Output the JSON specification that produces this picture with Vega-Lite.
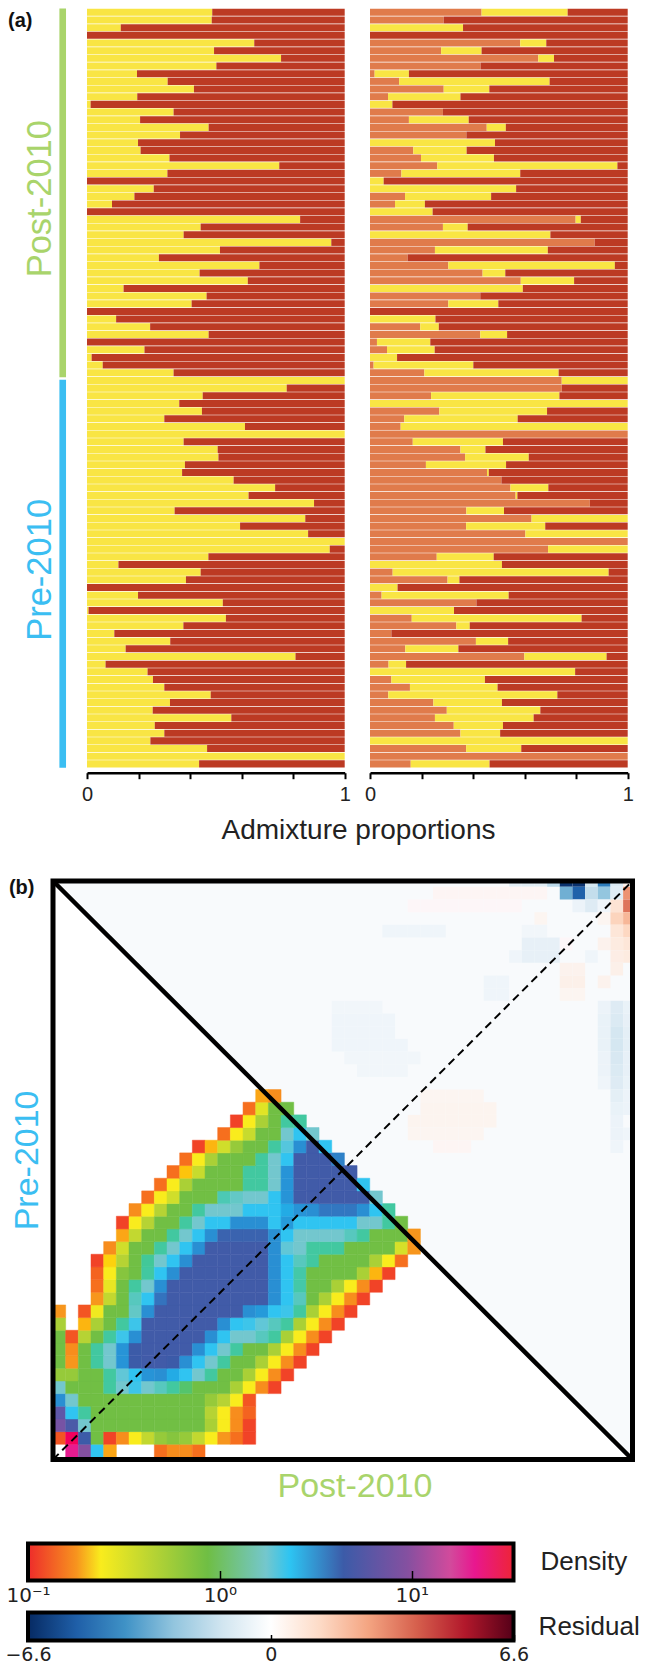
{"$schema":"https://vega.github.io/schema/vega-lite/v6.json","padding":{"left":0,"top":8.5,"right":0,"bottom":0},"spacing":38,"background":"white",
"config":{"view":{"stroke":null},"font":"Liberation Sans","axis":{"grid":false}},
"resolve":{"scale":{"color":"independent"}},
"datasets":{
"left":[{"i":1,"k2":0.486,"k3":0.514},{"i":2,"k2":0.484,"k3":0.516},{"i":3,"k2":0.131,"k3":0.869},{"i":4,"k2":0,"k3":1},{"i":5,"k2":0.649,"k3":0.351},{"i":6,"k2":0.493,"k3":0.507},{"i":7,"k2":0.753,"k3":0.247},{"i":8,"k2":0.502,"k3":0.498},{"i":9,"k2":0.194,"k3":0.806},{"i":10,"k2":0.313,"k3":0.687},{"i":11,"k2":0.415,"k3":0.585},{"i":12,"k2":0.195,"k3":0.805},{"i":13,"k2":0.014,"k3":0.986},{"i":14,"k2":0.336,"k3":0.664},{"i":15,"k2":0.206,"k3":0.794},{"i":16,"k2":0.472,"k3":0.528},{"i":17,"k2":0.361,"k3":0.639},{"i":18,"k2":0.198,"k3":0.802},{"i":19,"k2":0.208,"k3":0.792},{"i":20,"k2":0.32,"k3":0.68},{"i":21,"k2":0.746,"k3":0.254},{"i":22,"k2":0.312,"k3":0.688},{"i":23,"k2":0,"k3":1},{"i":24,"k2":0.259,"k3":0.741},{"i":25,"k2":0.184,"k3":0.816},{"i":26,"k2":0.097,"k3":0.903},{"i":27,"k2":0,"k3":1},{"i":28,"k2":0.827,"k3":0.173},{"i":29,"k2":0.441,"k3":0.559},{"i":30,"k2":0.375,"k3":0.625},{"i":31,"k2":0.948,"k3":0.052},{"i":32,"k2":0.516,"k3":0.484},{"i":33,"k2":0.279,"k3":0.721},{"i":34,"k2":0.669,"k3":0.331},{"i":35,"k2":0.437,"k3":0.563},{"i":36,"k2":0.624,"k3":0.376},{"i":37,"k2":0.142,"k3":0.858},{"i":38,"k2":0.464,"k3":0.536},{"i":39,"k2":0.406,"k3":0.594},{"i":40,"k2":0,"k3":1},{"i":41,"k2":0.113,"k3":0.887},{"i":42,"k2":0.245,"k3":0.755},{"i":43,"k2":0.472,"k3":0.528},{"i":44,"k2":0,"k3":1},{"i":45,"k2":0.223,"k3":0.777},{"i":46,"k2":0.018,"k3":0.982},{"i":47,"k2":0.061,"k3":0.939},{"i":48,"k2":0.336,"k3":0.664},{"i":49,"k2":1,"k3":0},{"i":50,"k2":0.775,"k3":0.225},{"i":51,"k2":0.449,"k3":0.551},{"i":52,"k2":0.358,"k3":0.642},{"i":53,"k2":0.446,"k3":0.554},{"i":54,"k2":0.3,"k3":0.7},{"i":55,"k2":0.613,"k3":0.387},{"i":56,"k2":1,"k3":0},{"i":57,"k2":0.375,"k3":0.625},{"i":58,"k2":0.507,"k3":0.493},{"i":59,"k2":0.51,"k3":0.49},{"i":60,"k2":0.38,"k3":0.62},{"i":61,"k2":0.369,"k3":0.631},{"i":62,"k2":0.569,"k3":0.431},{"i":63,"k2":0.73,"k3":0.27},{"i":64,"k2":0.627,"k3":0.373},{"i":65,"k2":0.881,"k3":0.119},{"i":66,"k2":0.34,"k3":0.66},{"i":67,"k2":0.847,"k3":0.153},{"i":68,"k2":0.594,"k3":0.406},{"i":69,"k2":0.858,"k3":0.142},{"i":70,"k2":1,"k3":0},{"i":71,"k2":0.942,"k3":0.058},{"i":72,"k2":0.471,"k3":0.529},{"i":73,"k2":0.122,"k3":0.878},{"i":74,"k2":0.441,"k3":0.559},{"i":75,"k2":0.384,"k3":0.616},{"i":76,"k2":0,"k3":1},{"i":77,"k2":0.198,"k3":0.802},{"i":78,"k2":0.527,"k3":0.473},{"i":79,"k2":0.006,"k3":0.994},{"i":80,"k2":0.539,"k3":0.461},{"i":81,"k2":0.374,"k3":0.626},{"i":82,"k2":0.106,"k3":0.894},{"i":83,"k2":0.323,"k3":0.677},{"i":84,"k2":0.15,"k3":0.85},{"i":85,"k2":0.809,"k3":0.191},{"i":86,"k2":0.072,"k3":0.928},{"i":87,"k2":0.235,"k3":0.765},{"i":88,"k2":0.256,"k3":0.744},{"i":89,"k2":0.3,"k3":0.7},{"i":90,"k2":0.48,"k3":0.52},{"i":91,"k2":0.322,"k3":0.678},{"i":92,"k2":0.255,"k3":0.745},{"i":93,"k2":0.56,"k3":0.44},{"i":94,"k2":0.263,"k3":0.737},{"i":95,"k2":0.3,"k3":0.7},{"i":96,"k2":0.246,"k3":0.754},{"i":97,"k2":0.466,"k3":0.534},{"i":98,"k2":1,"k3":0},{"i":99,"k2":0.435,"k3":0.565}],
"right":[{"i":1,"k1":0.433,"k2":0.334,"k3":0.233},{"i":2,"k1":0.286,"k2":0,"k3":0.714},{"i":3,"k1":0,"k2":0.361,"k3":0.639},{"i":4,"k1":0,"k2":0,"k3":1},{"i":5,"k1":0.583,"k2":0.101,"k3":0.316},{"i":6,"k1":0.276,"k2":0.157,"k3":0.567},{"i":7,"k1":0.653,"k2":0.061,"k3":0.286},{"i":8,"k1":0.429,"k2":0,"k3":0.571},{"i":9,"k1":0.018,"k2":0.133,"k3":0.849},{"i":10,"k1":0.113,"k2":0.584,"k3":0.303},{"i":11,"k1":0.286,"k2":0.177,"k3":0.537},{"i":12,"k1":0.07,"k2":0.281,"k3":0.649},{"i":13,"k1":0,"k2":0.087,"k3":0.913},{"i":14,"k1":0.283,"k2":0,"k3":0.717},{"i":15,"k1":0.151,"k2":0.232,"k3":0.617},{"i":16,"k1":0.453,"k2":0.074,"k3":0.473},{"i":17,"k1":0.374,"k2":0,"k3":0.626},{"i":18,"k1":0,"k2":0.485,"k3":0.515},{"i":19,"k1":0.168,"k2":0.207,"k3":0.625},{"i":20,"k1":0.198,"k2":0.283,"k3":0.519},{"i":21,"k1":0.261,"k2":0.699,"k3":0.04},{"i":22,"k1":0.122,"k2":0.461,"k3":0.417},{"i":23,"k1":0,"k2":0.053,"k3":0.947},{"i":24,"k1":0,"k2":0.567,"k3":0.433},{"i":25,"k1":0.136,"k2":0.334,"k3":0.53},{"i":26,"k1":0.097,"k2":0.116,"k3":0.787},{"i":27,"k1":0,"k2":0.243,"k3":0.757},{"i":28,"k1":0.798,"k2":0.02,"k3":0.182},{"i":29,"k1":0.283,"k2":0.096,"k3":0.621},{"i":30,"k1":0,"k2":0.7,"k3":0.3},{"i":31,"k1":0.872,"k2":0,"k3":0.128},{"i":32,"k1":0.252,"k2":0.438,"k3":0.31},{"i":33,"k1":0.146,"k2":0,"k3":0.854},{"i":34,"k1":0.304,"k2":0.646,"k3":0.05},{"i":35,"k1":0.437,"k2":0.088,"k3":0.475},{"i":36,"k1":0.585,"k2":0.207,"k3":0.208},{"i":37,"k1":0,"k2":0.593,"k3":0.407},{"i":38,"k1":0.428,"k2":0,"k3":0.572},{"i":39,"k1":0.304,"k2":0.194,"k3":0.502},{"i":40,"k1":0,"k2":0,"k3":1},{"i":41,"k1":0,"k2":0.254,"k3":0.746},{"i":42,"k1":0.195,"k2":0.072,"k3":0.733},{"i":43,"k1":0.428,"k2":0.104,"k3":0.468},{"i":44,"k1":0.027,"k2":0.207,"k3":0.766},{"i":45,"k1":0.066,"k2":0.185,"k3":0.749},{"i":46,"k1":0,"k2":0.105,"k3":0.895},{"i":47,"k1":0.014,"k2":0.387,"k3":0.599},{"i":48,"k1":0.211,"k2":0.521,"k3":0.268},{"i":49,"k1":0.744,"k2":0.256,"k3":0},{"i":50,"k1":0.744,"k2":0,"k3":0.256},{"i":51,"k1":0.237,"k2":0.498,"k3":0.265},{"i":52,"k1":0,"k2":1,"k3":0},{"i":53,"k1":0.269,"k2":0.418,"k3":0.313},{"i":54,"k1":0.133,"k2":0.44,"k3":0.427},{"i":55,"k1":0.119,"k2":0.881,"k3":0},{"i":56,"k1":1,"k2":0,"k3":0},{"i":57,"k1":0.166,"k2":0.35,"k3":0.484},{"i":58,"k1":0.351,"k2":0.097,"k3":0.552},{"i":59,"k1":0.369,"k2":0.247,"k3":0.384},{"i":60,"k1":0.217,"k2":0.311,"k3":0.472},{"i":61,"k1":0.454,"k2":0.007,"k3":0.539},{"i":62,"k1":0.51,"k2":0,"k3":0.49},{"i":63,"k1":0.545,"k2":0.147,"k3":0.308},{"i":64,"k1":0.565,"k2":0.007,"k3":0.428},{"i":65,"k1":0.853,"k2":0,"k3":0.147},{"i":66,"k1":0.374,"k2":0.146,"k3":0.48},{"i":67,"k1":0.627,"k2":0.373,"k3":0},{"i":68,"k1":0.373,"k2":0.307,"k3":0.32},{"i":69,"k1":0.603,"k2":0.397,"k3":0},{"i":70,"k1":1,"k2":0,"k3":0},{"i":71,"k1":0.691,"k2":0.309,"k3":0},{"i":72,"k1":0.259,"k2":0.221,"k3":0.52},{"i":73,"k1":0,"k2":0.512,"k3":0.488},{"i":74,"k1":0.088,"k2":0.838,"k3":0.074},{"i":75,"k1":0.301,"k2":0.046,"k3":0.653},{"i":76,"k1":0,"k2":0.107,"k3":0.893},{"i":77,"k1":0.045,"k2":0.493,"k3":0.462},{"i":78,"k1":0.413,"k2":0,"k3":0.587},{"i":79,"k1":0,"k2":0.326,"k3":0.674},{"i":80,"k1":0.162,"k2":0.659,"k3":0.179},{"i":81,"k1":0.335,"k2":0.052,"k3":0.613},{"i":82,"k1":0.083,"k2":0,"k3":0.917},{"i":83,"k1":0.411,"k2":0.125,"k3":0.464},{"i":84,"k1":0.137,"k2":0.206,"k3":0.657},{"i":85,"k1":0.599,"k2":0.319,"k3":0.082},{"i":86,"k1":0.072,"k2":0.068,"k3":0.86},{"i":87,"k1":0,"k2":0.796,"k3":0.204},{"i":88,"k1":0.083,"k2":0.363,"k3":0.554},{"i":89,"k1":0.155,"k2":0.34,"k3":0.505},{"i":90,"k1":0.071,"k2":0.656,"k3":0.273},{"i":91,"k1":0.246,"k2":0.266,"k3":0.488},{"i":92,"k1":0.298,"k2":0.363,"k3":0.339},{"i":93,"k1":0.252,"k2":0.383,"k3":0.365},{"i":94,"k1":0.325,"k2":0.191,"k3":0.484},{"i":95,"k1":0.351,"k2":0.154,"k3":0.495},{"i":96,"k1":0,"k2":1,"k3":0},{"i":97,"k1":0.373,"k2":0.214,"k3":0.413},{"i":98,"k1":1,"k2":0,"k3":0},{"i":99,"k1":0.158,"k2":0.306,"k3":0.536}],
"groups":[{"group":"Post-2010","first":0,"last":48.1,"mid":24.8},{"group":"Pre-2010","first":48.4,"last":99,"mid":73.2}],
"density":[
{"c":1,"j":0,"d":21},{"c":2,"j":0,"d":9.4},{"c":3,"j":0,"d":2.3},{"c":4,"j":0,"d":0.19},{"c":8,"j":0,"d":0.14},{"c":9,"j":0,"d":0.17},{"c":10,"j":0,"d":0.17},{"c":11,"j":0,"d":0.14},
{"c":0,"j":1,"d":0.12},{"c":1,"j":1,"d":28},{"c":2,"j":1,"d":4.4},{"c":3,"j":1,"d":0.85},{"c":4,"j":1,"d":0.11},{"c":5,"j":1,"d":0.17},{"c":6,"j":1,"d":0.24},{"c":7,"j":1,"d":0.4},{"c":8,"j":1,"d":0.6},{"c":9,"j":1,"d":0.7},{"c":10,"j":1,"d":0.6},{"c":11,"j":1,"d":0.4},{"c":12,"j":1,"d":0.24},{"c":13,"j":1,"d":0.18},{"c":14,"j":1,"d":0.14},{"c":15,"j":1,"d":0.11},
{"c":0,"j":2,"d":8},{"c":1,"j":2,"d":5},{"c":2,"j":2,"d":1.75},{"c":3,"j":2,"d":0.85},{"c":4,"j":2,"d":0.85},{"c":5,"j":2,"d":0.85},{"c":6,"j":2,"d":0.85},{"c":7,"j":2,"d":0.85},{"c":8,"j":2,"d":0.85},{"c":9,"j":2,"d":0.85},{"c":10,"j":2,"d":0.85},{"c":11,"j":2,"d":0.85},{"c":12,"j":2,"d":0.5},{"c":13,"j":2,"d":0.24},{"c":14,"j":2,"d":0.17},{"c":15,"j":2,"d":0.11},
{"c":0,"j":3,"d":6},{"c":1,"j":3,"d":2.3},{"c":2,"j":3,"d":1.25},{"c":3,"j":3,"d":0.85},{"c":4,"j":3,"d":0.85},{"c":5,"j":3,"d":0.85},{"c":6,"j":3,"d":0.85},{"c":7,"j":3,"d":0.85},{"c":8,"j":3,"d":0.85},{"c":9,"j":3,"d":0.85},{"c":10,"j":3,"d":0.85},{"c":11,"j":3,"d":0.85},{"c":12,"j":3,"d":0.45},{"c":13,"j":3,"d":0.24},{"c":14,"j":3,"d":0.17},{"c":15,"j":3,"d":0.13},
{"c":0,"j":4,"d":3.2},{"c":1,"j":4,"d":1.75},{"c":2,"j":4,"d":0.85},{"c":3,"j":4,"d":0.85},{"c":4,"j":4,"d":0.85},{"c":5,"j":4,"d":0.85},{"c":6,"j":4,"d":0.85},{"c":7,"j":4,"d":0.85},{"c":8,"j":4,"d":0.85},{"c":9,"j":4,"d":0.85},{"c":10,"j":4,"d":0.85},{"c":11,"j":4,"d":0.85},{"c":12,"j":4,"d":0.6},{"c":13,"j":4,"d":0.45},{"c":14,"j":4,"d":0.24},{"c":15,"j":4,"d":0.12},
{"c":0,"j":5,"d":1.75},{"c":1,"j":5,"d":0.85},{"c":2,"j":5,"d":0.85},{"c":3,"j":5,"d":0.85},{"c":4,"j":5,"d":1.25},{"c":5,"j":5,"d":1.75},{"c":6,"j":5,"d":2.2},{"c":7,"j":5,"d":1.75},{"c":8,"j":5,"d":1.5},{"c":9,"j":5,"d":1.25},{"c":10,"j":5,"d":1},{"c":11,"j":5,"d":0.85},{"c":12,"j":5,"d":0.85},{"c":13,"j":5,"d":0.85},{"c":14,"j":5,"d":0.5},{"c":15,"j":5,"d":0.24},{"c":16,"j":5,"d":0.17},{"c":17,"j":5,"d":0.11},
{"c":0,"j":6,"d":0.6},{"c":1,"j":6,"d":0.6},{"c":2,"j":6,"d":0.85},{"c":3,"j":6,"d":0.85},{"c":4,"j":6,"d":1.25},{"c":5,"j":6,"d":1.9},{"c":6,"j":6,"d":2.3},{"c":7,"j":6,"d":3.1},{"c":8,"j":6,"d":3.2},{"c":9,"j":6,"d":2.7},{"c":10,"j":6,"d":2.3},{"c":11,"j":6,"d":1.75},{"c":12,"j":6,"d":1.25},{"c":13,"j":6,"d":0.85},{"c":14,"j":6,"d":0.85},{"c":15,"j":6,"d":0.5},{"c":16,"j":6,"d":0.24},{"c":17,"j":6,"d":0.17},{"c":18,"j":6,"d":0.11},
{"c":0,"j":7,"d":0.85},{"c":1,"j":7,"d":0.18},{"c":2,"j":7,"d":0.85},{"c":3,"j":7,"d":1.25},{"c":4,"j":7,"d":1.75},{"c":5,"j":7,"d":3.1},{"c":6,"j":7,"d":4.4},{"c":7,"j":7,"d":4.6},{"c":8,"j":7,"d":4.6},{"c":9,"j":7,"d":4.4},{"c":10,"j":7,"d":3.2},{"c":11,"j":7,"d":2.3},{"c":12,"j":7,"d":1.75},{"c":13,"j":7,"d":1.25},{"c":14,"j":7,"d":0.85},{"c":15,"j":7,"d":0.85},{"c":16,"j":7,"d":0.5},{"c":17,"j":7,"d":0.24},{"c":18,"j":7,"d":0.17},{"c":19,"j":7,"d":0.11},
{"c":0,"j":8,"d":0.85},{"c":1,"j":8,"d":0.17},{"c":2,"j":8,"d":0.85},{"c":3,"j":8,"d":1.25},{"c":4,"j":8,"d":1.75},{"c":5,"j":8,"d":3.1},{"c":6,"j":8,"d":4.4},{"c":7,"j":8,"d":4.6},{"c":8,"j":8,"d":4.6},{"c":9,"j":8,"d":4.6},{"c":10,"j":8,"d":4.6},{"c":11,"j":8,"d":3.2},{"c":12,"j":8,"d":2.3},{"c":13,"j":8,"d":1.75},{"c":14,"j":8,"d":1.25},{"c":15,"j":8,"d":0.85},{"c":16,"j":8,"d":0.85},{"c":17,"j":8,"d":0.5},{"c":18,"j":8,"d":0.24},{"c":19,"j":8,"d":0.17},{"c":20,"j":8,"d":0.11},
{"c":0,"j":9,"d":0.85},{"c":1,"j":9,"d":0.12},{"c":2,"j":9,"d":0.45},{"c":3,"j":9,"d":0.85},{"c":4,"j":9,"d":1.25},{"c":5,"j":9,"d":2.2},{"c":6,"j":9,"d":3.2},{"c":7,"j":9,"d":4.6},{"c":8,"j":9,"d":4.6},{"c":9,"j":9,"d":4.6},{"c":10,"j":9,"d":4.6},{"c":11,"j":9,"d":4.6},{"c":12,"j":9,"d":3.2},{"c":13,"j":9,"d":2.3},{"c":14,"j":9,"d":1.75},{"c":15,"j":9,"d":1.75},{"c":16,"j":9,"d":1.5},{"c":17,"j":9,"d":1.25},{"c":18,"j":9,"d":0.5},{"c":19,"j":9,"d":0.24},{"c":20,"j":9,"d":0.17},{"c":21,"j":9,"d":0.11},
{"c":0,"j":10,"d":0.5},{"c":2,"j":10,"d":0.2},{"c":3,"j":10,"d":0.5},{"c":4,"j":10,"d":0.85},{"c":5,"j":10,"d":1.25},{"c":6,"j":10,"d":2.2},{"c":7,"j":10,"d":4.6},{"c":8,"j":10,"d":4.6},{"c":9,"j":10,"d":4.6},{"c":10,"j":10,"d":4.6},{"c":11,"j":10,"d":4.6},{"c":12,"j":10,"d":4.6},{"c":13,"j":10,"d":3.2},{"c":14,"j":10,"d":2.3},{"c":15,"j":10,"d":2.2},{"c":16,"j":10,"d":1.9},{"c":17,"j":10,"d":1.5},{"c":18,"j":10,"d":1.25},{"c":19,"j":10,"d":0.5},{"c":20,"j":10,"d":0.24},{"c":21,"j":10,"d":0.17},{"c":22,"j":10,"d":0.11},
{"c":0,"j":11,"d":0.18},{"c":2,"j":11,"d":0.12},{"c":3,"j":11,"d":0.26},{"c":4,"j":11,"d":0.85},{"c":5,"j":11,"d":0.85},{"c":6,"j":11,"d":1.6},{"c":7,"j":11,"d":3.2},{"c":8,"j":11,"d":4.6},{"c":9,"j":11,"d":4.6},{"c":10,"j":11,"d":4.6},{"c":11,"j":11,"d":4.6},{"c":12,"j":11,"d":4.6},{"c":13,"j":11,"d":4.6},{"c":14,"j":11,"d":4.6},{"c":15,"j":11,"d":3.2},{"c":16,"j":11,"d":3},{"c":17,"j":11,"d":2.3},{"c":18,"j":11,"d":2.2},{"c":19,"j":11,"d":1.25},{"c":20,"j":11,"d":0.5},{"c":21,"j":11,"d":0.24},{"c":22,"j":11,"d":0.17},{"c":23,"j":11,"d":0.11},
{"c":3,"j":12,"d":0.18},{"c":4,"j":12,"d":0.4},{"c":5,"j":12,"d":0.85},{"c":6,"j":12,"d":1.5},{"c":7,"j":12,"d":2.3},{"c":8,"j":12,"d":3.8},{"c":9,"j":12,"d":4.6},{"c":10,"j":12,"d":4.6},{"c":11,"j":12,"d":4.6},{"c":12,"j":12,"d":4.6},{"c":13,"j":12,"d":4.6},{"c":14,"j":12,"d":4.6},{"c":15,"j":12,"d":4.6},{"c":16,"j":12,"d":4.6},{"c":17,"j":12,"d":3.2},{"c":18,"j":12,"d":2.3},{"c":19,"j":12,"d":1.5},{"c":20,"j":12,"d":0.85},{"c":21,"j":12,"d":0.5},{"c":22,"j":12,"d":0.24},{"c":23,"j":12,"d":0.17},{"c":24,"j":12,"d":0.11},
{"c":3,"j":13,"d":0.14},{"c":4,"j":13,"d":0.28},{"c":5,"j":13,"d":0.85},{"c":6,"j":13,"d":1.25},{"c":7,"j":13,"d":1.75},{"c":8,"j":13,"d":3.2},{"c":9,"j":13,"d":4.6},{"c":10,"j":13,"d":4.6},{"c":11,"j":13,"d":4.6},{"c":12,"j":13,"d":4.6},{"c":13,"j":13,"d":4.6},{"c":14,"j":13,"d":4.6},{"c":15,"j":13,"d":4.6},{"c":16,"j":13,"d":4.6},{"c":17,"j":13,"d":3.2},{"c":18,"j":13,"d":2.3},{"c":19,"j":13,"d":1.3},{"c":20,"j":13,"d":0.85},{"c":21,"j":13,"d":0.85},{"c":22,"j":13,"d":0.5},{"c":23,"j":13,"d":0.24},{"c":24,"j":13,"d":0.17},{"c":25,"j":13,"d":0.11},
{"c":3,"j":14,"d":0.13},{"c":4,"j":14,"d":0.24},{"c":5,"j":14,"d":0.7},{"c":6,"j":14,"d":0.85},{"c":7,"j":14,"d":1.25},{"c":8,"j":14,"d":2.3},{"c":9,"j":14,"d":3.2},{"c":10,"j":14,"d":4.6},{"c":11,"j":14,"d":4.6},{"c":12,"j":14,"d":4.6},{"c":13,"j":14,"d":4.6},{"c":14,"j":14,"d":4.6},{"c":15,"j":14,"d":4.6},{"c":16,"j":14,"d":4.6},{"c":17,"j":14,"d":3.2},{"c":18,"j":14,"d":2.3},{"c":19,"j":14,"d":1.3},{"c":20,"j":14,"d":0.85},{"c":21,"j":14,"d":0.85},{"c":22,"j":14,"d":0.85},{"c":23,"j":14,"d":0.85},{"c":24,"j":14,"d":0.5},{"c":25,"j":14,"d":0.2},{"c":26,"j":14,"d":0.11},
{"c":3,"j":15,"d":0.11},{"c":4,"j":15,"d":0.22},{"c":5,"j":15,"d":0.45},{"c":6,"j":15,"d":0.85},{"c":7,"j":15,"d":1.2},{"c":8,"j":15,"d":1.75},{"c":9,"j":15,"d":2.3},{"c":10,"j":15,"d":3.2},{"c":11,"j":15,"d":4.6},{"c":12,"j":15,"d":4.6},{"c":13,"j":15,"d":4.6},{"c":14,"j":15,"d":4.6},{"c":15,"j":15,"d":4.6},{"c":16,"j":15,"d":4.6},{"c":17,"j":15,"d":3.2},{"c":18,"j":15,"d":2.3},{"c":19,"j":15,"d":1.5},{"c":20,"j":15,"d":1.25},{"c":21,"j":15,"d":0.85},{"c":22,"j":15,"d":0.85},{"c":23,"j":15,"d":0.85},{"c":24,"j":15,"d":0.85},{"c":25,"j":15,"d":0.5},{"c":26,"j":15,"d":0.24},{"c":27,"j":15,"d":0.14},
{"c":4,"j":16,"d":0.17},{"c":5,"j":16,"d":0.35},{"c":6,"j":16,"d":0.85},{"c":7,"j":16,"d":0.85},{"c":8,"j":16,"d":1.25},{"c":9,"j":16,"d":1.75},{"c":10,"j":16,"d":2.3},{"c":11,"j":16,"d":3.2},{"c":12,"j":16,"d":4.6},{"c":13,"j":16,"d":4.6},{"c":14,"j":16,"d":4.6},{"c":15,"j":16,"d":4.6},{"c":16,"j":16,"d":4.6},{"c":17,"j":16,"d":3.2},{"c":18,"j":16,"d":1.9},{"c":19,"j":16,"d":1.75},{"c":20,"j":16,"d":1.25},{"c":21,"j":16,"d":1.25},{"c":22,"j":16,"d":1.25},{"c":23,"j":16,"d":0.85},{"c":24,"j":16,"d":0.85},{"c":25,"j":16,"d":0.85},{"c":26,"j":16,"d":0.85},{"c":27,"j":16,"d":0.33},{"c":28,"j":16,"d":0.18},
{"c":5,"j":17,"d":0.19},{"c":6,"j":17,"d":0.4},{"c":7,"j":17,"d":0.85},{"c":8,"j":17,"d":0.85},{"c":9,"j":17,"d":1.25},{"c":10,"j":17,"d":1.75},{"c":11,"j":17,"d":2.3},{"c":12,"j":17,"d":3.2},{"c":13,"j":17,"d":4.2},{"c":14,"j":17,"d":4.2},{"c":15,"j":17,"d":4.2},{"c":16,"j":17,"d":4.2},{"c":17,"j":17,"d":3.2},{"c":18,"j":17,"d":2.3},{"c":19,"j":17,"d":1.75},{"c":20,"j":17,"d":1.75},{"c":21,"j":17,"d":1.75},{"c":22,"j":17,"d":1.75},{"c":23,"j":17,"d":1.5},{"c":24,"j":17,"d":1.25},{"c":25,"j":17,"d":0.85},{"c":26,"j":17,"d":0.85},{"c":27,"j":17,"d":0.85},{"c":28,"j":17,"d":0.18},
{"c":5,"j":18,"d":0.11},{"c":6,"j":18,"d":0.24},{"c":7,"j":18,"d":0.45},{"c":8,"j":18,"d":0.85},{"c":9,"j":18,"d":0.85},{"c":10,"j":18,"d":1.25},{"c":11,"j":18,"d":1.75},{"c":12,"j":18,"d":2.3},{"c":13,"j":18,"d":2.3},{"c":14,"j":18,"d":3.2},{"c":15,"j":18,"d":3.2},{"c":16,"j":18,"d":3.2},{"c":17,"j":18,"d":2.3},{"c":18,"j":18,"d":3},{"c":19,"j":18,"d":2.3},{"c":20,"j":18,"d":2.3},{"c":21,"j":18,"d":2.3},{"c":22,"j":18,"d":2.3},{"c":23,"j":18,"d":2.3},{"c":24,"j":18,"d":1.75},{"c":25,"j":18,"d":1.75},{"c":26,"j":18,"d":1.25},{"c":27,"j":18,"d":0.85},
{"c":6,"j":19,"d":0.17},{"c":7,"j":19,"d":0.24},{"c":8,"j":19,"d":0.45},{"c":9,"j":19,"d":0.85},{"c":10,"j":19,"d":0.85},{"c":11,"j":19,"d":1.25},{"c":12,"j":19,"d":1.75},{"c":13,"j":19,"d":1.75},{"c":14,"j":19,"d":1.75},{"c":15,"j":19,"d":2.3},{"c":16,"j":19,"d":2.3},{"c":17,"j":19,"d":2.3},{"c":18,"j":19,"d":2.7},{"c":19,"j":19,"d":3.1},{"c":20,"j":19,"d":3.2},{"c":21,"j":19,"d":3.7},{"c":22,"j":19,"d":3.7},{"c":23,"j":19,"d":3.7},{"c":24,"j":19,"d":3.2},{"c":25,"j":19,"d":2.3},{"c":26,"j":19,"d":1.25},
{"c":7,"j":20,"d":0.14},{"c":8,"j":20,"d":0.24},{"c":9,"j":20,"d":0.35},{"c":10,"j":20,"d":0.85},{"c":11,"j":20,"d":0.85},{"c":12,"j":20,"d":0.85},{"c":13,"j":20,"d":1.4},{"c":14,"j":20,"d":1.6},{"c":15,"j":20,"d":1.75},{"c":16,"j":20,"d":1.75},{"c":17,"j":20,"d":2.3},{"c":18,"j":20,"d":3.1},{"c":19,"j":20,"d":4.6},{"c":20,"j":20,"d":4.6},{"c":21,"j":20,"d":4.6},{"c":22,"j":20,"d":4.6},{"c":23,"j":20,"d":4.6},{"c":24,"j":20,"d":4.6},{"c":25,"j":20,"d":1.75},
{"c":8,"j":21,"d":0.14},{"c":9,"j":21,"d":0.24},{"c":10,"j":21,"d":0.5},{"c":11,"j":21,"d":0.85},{"c":12,"j":21,"d":0.85},{"c":13,"j":21,"d":0.85},{"c":14,"j":21,"d":0.85},{"c":15,"j":21,"d":1.25},{"c":16,"j":21,"d":1.25},{"c":17,"j":21,"d":1.75},{"c":18,"j":21,"d":3.1},{"c":19,"j":21,"d":4.6},{"c":20,"j":21,"d":4.6},{"c":21,"j":21,"d":4.6},{"c":22,"j":21,"d":4.6},{"c":23,"j":21,"d":4.6},{"c":24,"j":21,"d":2.3},
{"c":9,"j":22,"d":0.14},{"c":10,"j":22,"d":0.21},{"c":11,"j":22,"d":0.38},{"c":12,"j":22,"d":0.85},{"c":13,"j":22,"d":0.85},{"c":14,"j":22,"d":0.85},{"c":15,"j":22,"d":1.25},{"c":16,"j":22,"d":1.25},{"c":17,"j":22,"d":1.75},{"c":18,"j":22,"d":3.1},{"c":19,"j":22,"d":4.6},{"c":20,"j":22,"d":4.6},{"c":21,"j":22,"d":4.6},{"c":22,"j":22,"d":4.6},{"c":23,"j":22,"d":4.6},
{"c":10,"j":23,"d":0.14},{"c":11,"j":23,"d":0.24},{"c":12,"j":23,"d":0.5},{"c":13,"j":23,"d":0.85},{"c":14,"j":23,"d":0.85},{"c":15,"j":23,"d":0.85},{"c":16,"j":23,"d":1.25},{"c":17,"j":23,"d":1.75},{"c":18,"j":23,"d":2.3},{"c":19,"j":23,"d":4.6},{"c":20,"j":23,"d":4.6},{"c":21,"j":23,"d":4.6},{"c":22,"j":23,"d":3.5},
{"c":11,"j":24,"d":0.11},{"c":12,"j":24,"d":0.2},{"c":13,"j":24,"d":0.35},{"c":14,"j":24,"d":0.6},{"c":15,"j":24,"d":0.85},{"c":16,"j":24,"d":0.85},{"c":17,"j":24,"d":1.25},{"c":18,"j":24,"d":2},{"c":19,"j":24,"d":3.2},{"c":20,"j":24,"d":4.6},{"c":21,"j":24,"d":2.3},
{"c":13,"j":25,"d":0.14},{"c":14,"j":25,"d":0.24},{"c":15,"j":25,"d":0.38},{"c":16,"j":25,"d":0.85},{"c":17,"j":25,"d":0.85},{"c":18,"j":25,"d":1.75},{"c":19,"j":25,"d":2.3},{"c":20,"j":25,"d":1.75},
{"c":14,"j":26,"d":0.11},{"c":15,"j":26,"d":0.24},{"c":16,"j":26,"d":0.5},{"c":17,"j":26,"d":0.85},{"c":18,"j":26,"d":1.25},{"c":19,"j":26,"d":1.25},
{"c":15,"j":27,"d":0.14},{"c":16,"j":27,"d":0.3},{"c":17,"j":27,"d":0.85},{"c":18,"j":27,"d":0.85},
{"c":16,"j":28,"d":0.19},{"c":17,"j":28,"d":0.17}],
"residual":[
{"c":36,"j":45,"r":-0.7},{"c":37,"j":45,"r":-0.8},{"c":38,"j":45,"r":-0.8},{"c":39,"j":45,"r":-1.8},{"c":40,"j":45,"r":-6.4},{"c":41,"j":45,"r":-6.4},{"c":42,"j":45,"r":-1.2},{"c":43,"j":45,"r":-4.5},{"c":44,"j":45,"r":-1},{"c":45,"j":45,"r":0.5},
{"c":30,"j":44,"r":0.25},{"c":31,"j":44,"r":0.25},{"c":32,"j":44,"r":0.25},{"c":33,"j":44,"r":0.25},{"c":34,"j":44,"r":0.25},{"c":35,"j":44,"r":0.25},{"c":36,"j":44,"r":0.25},{"c":37,"j":44,"r":0.25},{"c":38,"j":44,"r":0.25},{"c":40,"j":44,"r":-3.2},{"c":41,"j":44,"r":-5.2},{"c":42,"j":44,"r":-1.6},{"c":43,"j":44,"r":-2.6},{"c":44,"j":44,"r":-0.8},{"c":45,"j":44,"r":3},
{"c":28,"j":43,"r":0.2},{"c":29,"j":43,"r":0.2},{"c":30,"j":43,"r":0.2},{"c":31,"j":43,"r":0.2},{"c":32,"j":43,"r":0.2},{"c":33,"j":43,"r":0.2},{"c":34,"j":43,"r":0.2},{"c":35,"j":43,"r":0.2},{"c":36,"j":43,"r":0.2},{"c":41,"j":43,"r":-0.4},{"c":42,"j":43,"r":-0.9},{"c":43,"j":43,"r":-0.3},{"c":44,"j":43,"r":1},{"c":45,"j":43,"r":3.6},
{"c":38,"j":42,"r":0.3},{"c":43,"j":42,"r":0.3},{"c":44,"j":42,"r":1.5},{"c":45,"j":42,"r":2.2},
{"c":26,"j":41,"r":-0.3},{"c":27,"j":41,"r":-0.3},{"c":28,"j":41,"r":-0.3},{"c":29,"j":41,"r":-0.3},{"c":30,"j":41,"r":-0.3},{"c":37,"j":41,"r":-0.25},{"c":38,"j":41,"r":-0.25},{"c":44,"j":41,"r":0.9},{"c":45,"j":41,"r":1.4},
{"c":37,"j":40,"r":-0.6},{"c":38,"j":40,"r":-0.6},{"c":39,"j":40,"r":-0.6},{"c":40,"j":40,"r":0.2},{"c":43,"j":40,"r":0.4},{"c":44,"j":40,"r":0.7},{"c":45,"j":40,"r":0.9},
{"c":36,"j":39,"r":-0.3},{"c":37,"j":39,"r":-0.6},{"c":38,"j":39,"r":-0.6},{"c":39,"j":39,"r":-0.6},{"c":42,"j":39,"r":-0.3},{"c":44,"j":39,"r":0.6},{"c":45,"j":39,"r":0.7},
{"c":40,"j":38,"r":0.4},{"c":41,"j":38,"r":0.4},{"c":44,"j":38,"r":0.5},
{"c":34,"j":37,"r":-0.3},{"c":35,"j":37,"r":-0.3},{"c":40,"j":37,"r":0.5},{"c":41,"j":37,"r":0.5},{"c":43,"j":37,"r":0.4},
{"c":34,"j":36,"r":-0.3},{"c":35,"j":36,"r":-0.3},{"c":40,"j":36,"r":0.3},{"c":41,"j":36,"r":0.3},
{"c":22,"j":35,"r":-0.25},{"c":23,"j":35,"r":-0.25},{"c":24,"j":35,"r":-0.25},{"c":25,"j":35,"r":-0.25},{"c":43,"j":35,"r":-0.4},{"c":44,"j":35,"r":-0.9},{"c":45,"j":35,"r":-0.5},
{"c":22,"j":34,"r":-0.3},{"c":23,"j":34,"r":-0.3},{"c":24,"j":34,"r":-0.3},{"c":25,"j":34,"r":-0.3},{"c":26,"j":34,"r":-0.3},{"c":43,"j":34,"r":-0.5},{"c":44,"j":34,"r":-1},{"c":45,"j":34,"r":-0.6},
{"c":22,"j":33,"r":-0.3},{"c":23,"j":33,"r":-0.3},{"c":24,"j":33,"r":-0.3},{"c":25,"j":33,"r":-0.3},{"c":26,"j":33,"r":-0.3},{"c":43,"j":33,"r":-0.5},{"c":44,"j":33,"r":-1.2},{"c":45,"j":33,"r":-0.7},
{"c":22,"j":32,"r":-0.3},{"c":23,"j":32,"r":-0.3},{"c":24,"j":32,"r":-0.3},{"c":25,"j":32,"r":-0.3},{"c":26,"j":32,"r":-0.3},{"c":27,"j":32,"r":-0.3},{"c":43,"j":32,"r":-0.5},{"c":44,"j":32,"r":-1.2},{"c":45,"j":32,"r":-0.7},
{"c":23,"j":31,"r":-0.25},{"c":24,"j":31,"r":-0.25},{"c":25,"j":31,"r":-0.25},{"c":26,"j":31,"r":-0.25},{"c":27,"j":31,"r":-0.25},{"c":28,"j":31,"r":-0.25},{"c":43,"j":31,"r":-0.4},{"c":44,"j":31,"r":-1.1},{"c":45,"j":31,"r":-0.6},
{"c":24,"j":30,"r":-0.25},{"c":25,"j":30,"r":-0.25},{"c":26,"j":30,"r":-0.25},{"c":27,"j":30,"r":-0.25},{"c":43,"j":30,"r":-0.4},{"c":44,"j":30,"r":-1},{"c":45,"j":30,"r":-0.6},
{"c":43,"j":29,"r":-0.3},{"c":44,"j":29,"r":-0.9},{"c":45,"j":29,"r":-0.5},
{"c":29,"j":28,"r":0.3},{"c":30,"j":28,"r":0.3},{"c":31,"j":28,"r":0.3},{"c":32,"j":28,"r":0.3},{"c":33,"j":28,"r":0.3},{"c":44,"j":28,"r":-0.7},{"c":45,"j":28,"r":-0.4},
{"c":29,"j":27,"r":0.35},{"c":30,"j":27,"r":0.35},{"c":31,"j":27,"r":0.35},{"c":32,"j":27,"r":0.35},{"c":33,"j":27,"r":0.35},{"c":34,"j":27,"r":0.35},{"c":44,"j":27,"r":-0.5},{"c":45,"j":27,"r":-0.4},
{"c":28,"j":26,"r":0.35},{"c":29,"j":26,"r":0.35},{"c":30,"j":26,"r":0.35},{"c":31,"j":26,"r":0.35},{"c":32,"j":26,"r":0.35},{"c":33,"j":26,"r":0.35},{"c":34,"j":26,"r":0.35},{"c":44,"j":26,"r":-0.4},
{"c":28,"j":25,"r":0.3},{"c":29,"j":25,"r":0.3},{"c":30,"j":25,"r":0.3},{"c":31,"j":25,"r":0.3},{"c":32,"j":25,"r":0.3},{"c":33,"j":25,"r":0.3},{"c":44,"j":25,"r":-0.4},{"c":45,"j":25,"r":-0.3},
{"c":30,"j":24,"r":0.25},{"c":31,"j":24,"r":0.25},{"c":32,"j":24,"r":0.25},{"c":44,"j":24,"r":-0.3}]
},
"vconcat":[
{"spacing":31.5,"resolve":{"scale":{"color":"independent"}},"vconcat":[
 {"bounds":"flush","spacing":25,"resolve":{"scale":{"color":"independent"}},"hconcat":[
   {"width":62,"height":759.2,"view":{"fill":"white"},"layer":[
    {"data":{"name":"groups"},"mark":{"type":"rect"},"encoding":{"x":{"datum":0.958,"type":"quantitative","scale":{"domain":[0,1]},"axis":null},"x2":{"datum":1.065},"y":{"field":"first","type":"quantitative","scale":{"domain":[0,99],"reverse":true},"axis":null},"y2":{"field":"last"},"color":{"field":"group","type":"nominal","scale":{"domain":["Post-2010","Pre-2010"],"range":["#A9D46B","#3BBEF2"]},"legend":null}}},
    {"data":{"name":"groups"},"mark":{"type":"text","angle":270,"fontSize":34.5,"align":"center","baseline":"alphabetic"},"encoding":{"x":{"datum":0.818,"type":"quantitative","scale":{"domain":[0,1]},"axis":null},"y":{"field":"mid","type":"quantitative","scale":{"domain":[0,99],"reverse":true},"axis":null},"text":{"field":"group"},"color":{"field":"group","type":"nominal","scale":{"domain":["Post-2010","Pre-2010"],"range":["#A9D46B","#3BBEF2"]},"legend":null}}},
    {"data":{"values":[{"panel":"(a)"}]},"mark":{"type":"text","fontSize":20,"fontWeight":"bold","align":"left","baseline":"alphabetic","color":"#111111"},"encoding":{"x":{"datum":0.129,"type":"quantitative","scale":{"domain":[0,1]},"axis":null},"y":{"datum":2.4,"type":"quantitative","scale":{"domain":[0,99],"reverse":true},"axis":null},"text":{"field":"panel"}}}
   ]},
   {"width":257.7,"height":759.2,"data":{"name":"left"},"transform":[{"fold":["k2","k3"]}],"mark":{"type":"bar"},"encoding":{
    "y":{"field":"i","type":"ordinal","axis":null,"scale":{"paddingInner":0.08,"paddingOuter":0.04}},
    "x":{"field":"value","type":"quantitative","stack":"zero","scale":{"domain":[0,1]},"axis":{"title":"Admixture proportions","titleFontSize":28,"titleFontWeight":"normal","titleColor":"#222222","titleX":271,"titleY":58,"titleBaseline":"middle","titleAnchor":"middle","values":[0,0.2,0.4,0.6,0.8,1],"labelExpr":"datum.value==0||datum.value==1?datum.value:''","labelFontSize":20,"labelColor":"#222222","labelFlush":false,"labelOverlap":false,"labelBound":false,"labelPadding":6,"tickSize":6,"tickWidth":2,"tickColor":"black","domainWidth":2.5,"domainColor":"black","offset":5}},
    "order":{"field":"key","sort":"ascending"},
    "color":{"field":"key","type":"nominal","scale":{"domain":["k1","k2","k3"],"range":["#E07B4B","#F9E544","#BC3A23"]},"legend":null}}},
  {"width":257.7,"height":759.2,"data":{"name":"right"},"transform":[{"fold":["k1","k2","k3"]}],"mark":{"type":"bar"},"encoding":{
    "y":{"field":"i","type":"ordinal","axis":null,"scale":{"paddingInner":0.08,"paddingOuter":0.04}},
    "x":{"field":"value","type":"quantitative","stack":"zero","scale":{"domain":[0,1]},"axis":{"title":null,"values":[0,0.2,0.4,0.6,0.8,1],"labelExpr":"datum.value==0||datum.value==1?datum.value:''","labelFontSize":20,"labelColor":"#222222","labelFlush":false,"labelOverlap":false,"labelBound":false,"labelPadding":6,"tickSize":6,"tickWidth":2,"tickColor":"black","domainWidth":2.5,"domainColor":"black","offset":5}},
    "order":{"field":"key","sort":"ascending"},
    "color":{"field":"key","type":"nominal","scale":{"domain":["k1","k2","k3"],"range":["#E07B4B","#F9E544","#BC3A23"]},"legend":null}}}
 ]},
 {"bounds":"flush","spacing":0,"resolve":{"scale":{"color":"independent"}},"hconcat":[
  {"width":52.5,"height":578.5,"view":{"fill":"white"},"layer":[
    {"data":{"values":[{"label":"Pre-2010"}]},"mark":{"type":"text","angle":270,"fontSize":34,"align":"center","baseline":"alphabetic","color":"#3BBEF2"},"encoding":{"x":{"datum":0.72,"type":"quantitative","scale":{"domain":[0,1]},"axis":null},"y":{"datum":0.517,"type":"quantitative","scale":{"domain":[0,1]},"axis":null},"text":{"field":"label"}}},
    {"data":{"values":[{"panel":"(b)"}]},"mark":{"type":"text","fontSize":20,"fontWeight":"bold","align":"left","baseline":"alphabetic","color":"#111111"},"encoding":{"x":{"datum":0.17,"type":"quantitative","scale":{"domain":[0,1]},"axis":null},"y":{"datum":0.978,"type":"quantitative","scale":{"domain":[0,1]},"axis":null},"text":{"field":"panel"}}}
  ]},
  {"width":579.5,"height":578.5,"resolve":{"scale":{"color":"independent","stroke":"independent"}},"layer":[
    {"data":{"values":[{"x":0,"diag":45.46,"top":45.46},{"x":45.74,"diag":-0.2,"top":45.46}]},"mark":{"type":"area","color":"#F8FAFC"},"encoding":{"x":{"field":"x","type":"quantitative","title":"Post-2010","scale":{"domain":[0,45.74]},"axis":{"title":"Post-2010","titleFontSize":34,"titleFontWeight":"normal","titleColor":"#A9D46B","labels":false,"ticks":false,"domain":false,"titleX":301.5,"titleY":37,"titleBaseline":"alphabetic","titleAnchor":"middle"}},"y":{"field":"diag","type":"quantitative","scale":{"domain":[-0.2,45.46]},"axis":null},"y2":{"field":"top"}}},
    {"data":{"name":"residual"},"transform":[{"calculate":"datum.c+1","as":"c1"},{"calculate":"datum.j+1","as":"j1"}],"mark":{"type":"rect","clip":true},"encoding":{"x":{"field":"c","type":"quantitative","scale":{"domain":[0,45.74]},"title":"Post-2010"},"x2":{"field":"c1"},"y":{"field":"j","type":"quantitative","scale":{"domain":[-0.2,45.46]},"axis":null},"y2":{"field":"j1"},"color":{"field":"r","type":"quantitative","scale":{"domain":[-6.6,-5.28,-3.96,-2.64,-1.32,-0.3,0,0.3,1.32,2.64,3.96,5.28,6.6],"range":["#062A63","#1F5FA8","#3F92C6","#92C5DE","#D1E5F0","#EFF5FA","#F8FAFC","#FCF5F1","#FDDBC7","#F4A582","#D6604D","#B2182B","#550018"]},"legend":null}}},
    {"data":{"name":"density"},"transform":[{"calculate":"datum.c+1","as":"c1"},{"calculate":"datum.j+1","as":"j1"}],"mark":{"type":"rect","clip":true,"strokeWidth":0.5},"encoding":{"x":{"field":"c","type":"quantitative","scale":{"domain":[0,45.74]},"title":"Post-2010"},"x2":{"field":"c1"},"y":{"field":"j","type":"quantitative","scale":{"domain":[-0.2,45.46]},"axis":null},"y2":{"field":"j1"},"color":{"field":"d","type":"quantitative","scale":{"type":"log","domain":[0.1,0.179,0.24,0.455,0.863,1.74,2.32,4.41,9.4,15.9,21.3,33.9],"range":["#EE2B2B","#F7941E","#F9EC1D","#B5D334","#6FBE44","#74C7CD","#2DC4F2","#3C5BA8","#8450A0","#D24A9C","#E8178F","#EE2437"]},"legend":null},"stroke":{"field":"d","type":"quantitative","scale":{"type":"log","domain":[0.1,0.179,0.24,0.455,0.863,1.74,2.32,4.41,9.4,15.9,21.3,33.9],"range":["#EE2B2B","#F7941E","#F9EC1D","#B5D334","#6FBE44","#74C7CD","#2DC4F2","#3C5BA8","#8450A0","#D24A9C","#E8178F","#EE2437"]},"legend":null}}},
    {"data":{"values":[{"x0":0,"y0":45.46,"x1":45.74,"y1":-0.2}]},"mark":{"type":"rule","color":"black","strokeWidth":4.5},"encoding":{"x":{"field":"x0","type":"quantitative","scale":{"domain":[0,45.74]},"title":"Post-2010"},"x2":{"field":"x1"},"y":{"field":"y0","type":"quantitative","scale":{"domain":[-0.2,45.46]},"axis":null},"y2":{"field":"y1"}}},
    {"data":{"values":[{"x0":0,"y0":-0.2,"x1":45.74,"y1":45.46}]},"mark":{"type":"rule","color":"black","strokeWidth":2,"strokeDash":[8,5]},"encoding":{"x":{"field":"x0","type":"quantitative","scale":{"domain":[0,45.74]},"title":"Post-2010"},"x2":{"field":"x1"},"y":{"field":"y0","type":"quantitative","scale":{"domain":[-0.2,45.46]},"axis":null},"y2":{"field":"y1"}}},
    {"data":{"values":[{"x0":0,"y0":-0.2,"x1":45.74,"y1":45.46}]},"mark":{"type":"rect","fill":null,"stroke":"black","strokeWidth":5},"encoding":{"x":{"field":"x0","type":"quantitative","scale":{"domain":[0,45.74]},"title":"Post-2010"},"x2":{"field":"x1"},"y":{"field":"y0","type":"quantitative","scale":{"domain":[-0.2,45.46]},"axis":null},"y2":{"field":"y1"}}}
  ]}
 ]}
]},
{"spacing":5,"resolve":{"scale":{"color":"independent"}},"vconcat":[
 {"bounds":"flush","spacing":0,"hconcat":[
  {"width":27.5,"height":37,"view":{"fill":"white"},"data":{"values":[]},"mark":"rect","encoding":{}},
  {"width":485.5,"height":37,"title":{"text":"Density","orient":"right","angle":0,"align":"right","baseline":"middle","anchor":"middle","fontSize":26,"fontWeight":"normal","offset":25,"color":"#222222"},"data":{"values":[{"lo":0.1,"hi":33.9}]},"mark":{"type":"rect","stroke":"black","strokeWidth":4,"fill":{"gradient":"linear","x1":0,"y1":0,"x2":1,"y2":0,"stops":[{"offset":0,"color":"#EE2B2B"},{"offset":0.1,"color":"#F7941E"},{"offset":0.15,"color":"#F9EC1D"},{"offset":0.26,"color":"#B5D334"},{"offset":0.37,"color":"#6FBE44"},{"offset":0.49,"color":"#74C7CD"},{"offset":0.54,"color":"#2DC4F2"},{"offset":0.65,"color":"#3C5BA8"},{"offset":0.78,"color":"#8450A0"},{"offset":0.87,"color":"#D24A9C"},{"offset":0.92,"color":"#E8178F"},{"offset":1,"color":"#EE2437"}]}},"encoding":{"x":{"field":"lo","type":"quantitative","scale":{"type":"log","domain":[0.1,33.9]},"axis":{"title":null,"values":[0.1,1,10],"zindex":1,"labelExpr":"datum.value==0.1?'10⁻¹':datum.value==1?'10⁰':'10¹'","labelFont":"DejaVu Sans","labelFontSize":20,"labelColor":"#222222","labelPadding":15,"labelFlush":false,"labelOverlap":false,"labelBound":false,"tickSize":-10,"tickWidth":1.5,"tickColor":"black","domain":false}},"x2":{"field":"hi"}}}
 ]},
 {"bounds":"flush","spacing":0,"hconcat":[
  {"width":27.5,"height":28,"view":{"fill":"white"},"data":{"values":[]},"mark":"rect","encoding":{}},
  {"width":485.5,"height":28,"title":{"text":"Residual","orient":"right","angle":0,"align":"right","baseline":"middle","anchor":"middle","fontSize":26,"fontWeight":"normal","offset":10,"color":"#222222"},"data":{"values":[{"lo":-6.6,"hi":6.6}]},"mark":{"type":"rect","stroke":"black","strokeWidth":4,"fill":{"gradient":"linear","x1":0,"y1":0,"x2":1,"y2":0,"stops":[{"offset":0,"color":"#062A63"},{"offset":0.1,"color":"#1F5FA8"},{"offset":0.2,"color":"#3F92C6"},{"offset":0.3,"color":"#92C5DE"},{"offset":0.4,"color":"#D1E5F0"},{"offset":0.5,"color":"#FFFFFF"},{"offset":0.6,"color":"#FDDBC7"},{"offset":0.7,"color":"#F4A582"},{"offset":0.8,"color":"#D6604D"},{"offset":0.9,"color":"#B2182B"},{"offset":1,"color":"#550018"}]}},"encoding":{"x":{"field":"lo","type":"quantitative","scale":{"domain":[-6.6,6.6]},"axis":{"title":null,"values":[-6.6,0,6.6],"zindex":1,"labelExpr":"datum.value<0?'−6.6':datum.value==0?'0':'6.6'","labelFont":"DejaVu Sans","labelFontSize":19,"labelColor":"#222222","labelPadding":11,"labelFlush":false,"labelOverlap":false,"labelBound":false,"tickSize":-6,"tickWidth":1.5,"tickColor":"black","domain":false}},"x2":{"field":"hi"}}}
 ]}
]}
]}
